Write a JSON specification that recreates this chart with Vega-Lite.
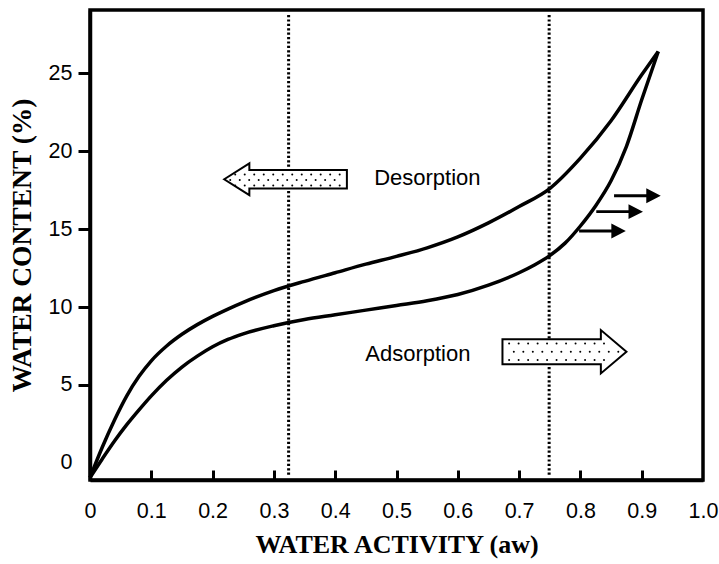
{
  "$schema": "https://vega.github.io/schema/vega-lite/v6.json",
  "width": 613,
  "height": 470,
  "autosize": {"type": "none"},
  "padding": {"left": 90, "top": 10, "right": 16, "bottom": 84},
  "background": "white",
  "config": {
    "view": {"stroke": "black", "strokeWidth": 3.5},
    "axis": {
      "domainColor": "black",
      "domainWidth": 3.5,
      "tickColor": "black",
      "tickWidth": 3,
      "labelFont": "Liberation Sans",
      "labelFontSize": 21.5,
      "labelColor": "black",
      "titleFont": "Liberation Serif",
      "titleFontWeight": "bold",
      "titleColor": "black",
      "grid": false
    }
  },
  "datasets": {
    "curves": [
      {"series": "Desorption", "x": 0, "y": -0.95},
      {"series": "Desorption", "x": 0.02, "y": 1.0},
      {"series": "Desorption", "x": 0.04, "y": 2.75},
      {"series": "Desorption", "x": 0.06, "y": 4.3},
      {"series": "Desorption", "x": 0.08, "y": 5.55},
      {"series": "Desorption", "x": 0.1, "y": 6.55},
      {"series": "Desorption", "x": 0.125, "y": 7.5},
      {"series": "Desorption", "x": 0.15, "y": 8.25},
      {"series": "Desorption", "x": 0.175, "y": 8.87},
      {"series": "Desorption", "x": 0.2, "y": 9.4},
      {"series": "Desorption", "x": 0.225, "y": 9.87},
      {"series": "Desorption", "x": 0.25, "y": 10.3},
      {"series": "Desorption", "x": 0.3, "y": 11.05},
      {"series": "Desorption", "x": 0.35, "y": 11.65},
      {"series": "Desorption", "x": 0.4, "y": 12.2},
      {"series": "Desorption", "x": 0.45, "y": 12.75},
      {"series": "Desorption", "x": 0.5, "y": 13.25},
      {"series": "Desorption", "x": 0.55, "y": 13.8},
      {"series": "Desorption", "x": 0.6, "y": 14.5},
      {"series": "Desorption", "x": 0.65, "y": 15.4},
      {"series": "Desorption", "x": 0.7, "y": 16.45},
      {"series": "Desorption", "x": 0.75, "y": 17.6},
      {"series": "Desorption", "x": 0.8, "y": 19.55},
      {"series": "Desorption", "x": 0.85, "y": 21.95},
      {"series": "Desorption", "x": 0.9, "y": 24.9},
      {"series": "Desorption", "x": 0.927, "y": 26.4},
      {"series": "Adsorption", "x": 0, "y": -0.95},
      {"series": "Adsorption", "x": 0.02, "y": 0.25},
      {"series": "Adsorption", "x": 0.04, "y": 1.4},
      {"series": "Adsorption", "x": 0.06, "y": 2.45},
      {"series": "Adsorption", "x": 0.08, "y": 3.4},
      {"series": "Adsorption", "x": 0.1, "y": 4.3},
      {"series": "Adsorption", "x": 0.125, "y": 5.3},
      {"series": "Adsorption", "x": 0.15, "y": 6.15},
      {"series": "Adsorption", "x": 0.175, "y": 6.85},
      {"series": "Adsorption", "x": 0.2, "y": 7.45},
      {"series": "Adsorption", "x": 0.225, "y": 7.92},
      {"series": "Adsorption", "x": 0.25, "y": 8.28},
      {"series": "Adsorption", "x": 0.3, "y": 8.8},
      {"series": "Adsorption", "x": 0.35, "y": 9.2},
      {"series": "Adsorption", "x": 0.4, "y": 9.5},
      {"series": "Adsorption", "x": 0.45, "y": 9.8},
      {"series": "Adsorption", "x": 0.5, "y": 10.1},
      {"series": "Adsorption", "x": 0.55, "y": 10.4},
      {"series": "Adsorption", "x": 0.6, "y": 10.8},
      {"series": "Adsorption", "x": 0.65, "y": 11.4},
      {"series": "Adsorption", "x": 0.7, "y": 12.2},
      {"series": "Adsorption", "x": 0.725, "y": 12.7},
      {"series": "Adsorption", "x": 0.75, "y": 13.3},
      {"series": "Adsorption", "x": 0.775, "y": 14.1},
      {"series": "Adsorption", "x": 0.8, "y": 15.2},
      {"series": "Adsorption", "x": 0.825, "y": 16.5},
      {"series": "Adsorption", "x": 0.85, "y": 18.1},
      {"series": "Adsorption", "x": 0.875, "y": 20.3},
      {"series": "Adsorption", "x": 0.9, "y": 23.3},
      {"series": "Adsorption", "x": 0.927, "y": 26.4}
    ],
    "vlines": [
      {"x": 0.324, "y": 28.74, "y2": -0.8},
      {"x": 0.749, "y": 28.74, "y2": -0.8}
    ],
    "leftArrow": [{"x": 0.319, "y": 18.2}],
    "rightArrow": [{"x": 0.774, "y": 7.13}],
    "dots": [
      {"x": 0.2369, "y": 18.5}, {"x": 0.2524, "y": 18.5}, {"x": 0.2679, "y": 18.5}, {"x": 0.2834, "y": 18.5},
      {"x": 0.2989, "y": 18.5}, {"x": 0.3144, "y": 18.5}, {"x": 0.3299, "y": 18.5}, {"x": 0.3454, "y": 18.5},
      {"x": 0.3608, "y": 18.5}, {"x": 0.3763, "y": 18.5}, {"x": 0.3918, "y": 18.5}, {"x": 0.4073, "y": 18.5},
      {"x": 0.2288, "y": 18.15}, {"x": 0.2443, "y": 18.15}, {"x": 0.2597, "y": 18.15}, {"x": 0.2752, "y": 18.15},
      {"x": 0.2907, "y": 18.15}, {"x": 0.3062, "y": 18.15}, {"x": 0.3217, "y": 18.15}, {"x": 0.3372, "y": 18.15},
      {"x": 0.3527, "y": 18.15}, {"x": 0.3681, "y": 18.15}, {"x": 0.3836, "y": 18.15}, {"x": 0.3991, "y": 18.15},
      {"x": 0.2369, "y": 17.8}, {"x": 0.2524, "y": 17.8}, {"x": 0.2679, "y": 17.8}, {"x": 0.2834, "y": 17.8},
      {"x": 0.2989, "y": 17.8}, {"x": 0.3144, "y": 17.8}, {"x": 0.3299, "y": 17.8}, {"x": 0.3454, "y": 17.8},
      {"x": 0.3608, "y": 17.8}, {"x": 0.3763, "y": 17.8}, {"x": 0.3918, "y": 17.8}, {"x": 0.4073, "y": 17.8},
      {"x": 0.6837, "y": 7.66}, {"x": 0.6992, "y": 7.66}, {"x": 0.7147, "y": 7.66}, {"x": 0.7302, "y": 7.66},
      {"x": 0.7456, "y": 7.66}, {"x": 0.7611, "y": 7.66}, {"x": 0.7766, "y": 7.66}, {"x": 0.7921, "y": 7.66},
      {"x": 0.8076, "y": 7.66}, {"x": 0.8231, "y": 7.66}, {"x": 0.8385, "y": 7.66},
      {"x": 0.6914, "y": 7.13}, {"x": 0.7069, "y": 7.13}, {"x": 0.7224, "y": 7.13}, {"x": 0.7379, "y": 7.13},
      {"x": 0.7534, "y": 7.13}, {"x": 0.7689, "y": 7.13}, {"x": 0.7844, "y": 7.13}, {"x": 0.7998, "y": 7.13},
      {"x": 0.8153, "y": 7.13}, {"x": 0.8308, "y": 7.13}, {"x": 0.8463, "y": 7.13}, {"x": 0.8618, "y": 7.13},
      {"x": 0.6837, "y": 6.6}, {"x": 0.6992, "y": 6.6}, {"x": 0.7147, "y": 6.6}, {"x": 0.7302, "y": 6.6},
      {"x": 0.7456, "y": 6.6}, {"x": 0.7611, "y": 6.6}, {"x": 0.7766, "y": 6.6}, {"x": 0.7921, "y": 6.6},
      {"x": 0.8076, "y": 6.6}, {"x": 0.8231, "y": 6.6}, {"x": 0.8385, "y": 6.6}
    ],
    "smallArrows": [
      {"x": 0.893, "y": 17.14},
      {"x": 0.864, "y": 16.12},
      {"x": 0.836, "y": 14.88}
    ],
    "labels": [
      {"x": 0.4636, "y": 17.83, "label": "Desorption"},
      {"x": 0.449, "y": 6.54, "label": "Adsorption"}
    ]
  },
  "resolve": {"axis": {"x": "independent"}},
  "encoding": {
    "y": {
      "field": "y",
      "type": "quantitative",
      "scale": {"domain": [-1.1, 29.06], "nice": false, "zero": false},
      "title": "WATER CONTENT (%)",
      "axis": {
        "values": [0, 5, 10, 15, 20, 25],
        "tickSize": 12,
        "labelPadding": 6,
        "labelFlush": false,
        "labelOverlap": false,
        "tickColor": {"condition": {"test": "datum.value === 0", "value": "transparent"}, "value": "black"},
        "titleFontSize": 27.5,
        "titlePadding": 12
      }
    }
  },
  "layer": [
    {
      "data": {"name": "vlines"},
      "mark": {"type": "rule", "strokeDash": [2.2, 2.2], "strokeWidth": 3, "color": "black"},
      "encoding": {
        "x": {
          "field": "x",
          "type": "quantitative",
          "scale": {"domain": [0, 1], "nice": false, "zero": false},
          "title": null,
          "axis": {
            "orient": "top",
            "offset": -470,
            "values": [0.1, 0.2, 0.3, 0.4, 0.5, 0.6, 0.7, 0.8, 0.9],
            "domain": false,
            "labels": false,
            "ticks": true,
            "tickSize": 10,
            "tickWidth": 3
          }
        },
        "y2": {"field": "y2"}
      }
    },
    {
      "data": {"name": "curves"},
      "mark": {"type": "line", "interpolate": "monotone", "color": "black", "strokeWidth": 3.5},
      "encoding": {
        "x": {
          "field": "x",
          "type": "quantitative",
          "scale": {"domain": [0, 1], "nice": false, "zero": false},
          "title": "WATER ACTIVITY (aw)",
          "axis": {
            "orient": "bottom",
            "values": [0, 0.1, 0.2, 0.3, 0.4, 0.5, 0.6, 0.7, 0.8, 0.9, 1],
            "labelExpr": "datum.value == 0 ? '0' : format(datum.value, '.1f')",
            "ticks": false,
            "labelPadding": 20,
            "labelFlush": false,
            "labelOverlap": false,
            "titleFontSize": 26,
            "titlePadding": 10
          }
        },
        "detail": {"field": "series"}
      }
    },
    {
      "data": {"name": "leftArrow"},
      "mark": {
        "type": "point",
        "shape": "M -1 0 L -0.59 -0.26 L -0.59 -0.15 L 1 -0.15 L 1 0.15 L -0.59 0.15 L -0.59 0.26 Z",
        "size": 15055,
        "filled": true,
        "fill": "white",
        "stroke": "black",
        "strokeWidth": 2,
        "opacity": 1
      },
      "encoding": {"x": {"field": "x", "type": "quantitative", "axis": null}}
    },
    {
      "data": {"name": "rightArrow"},
      "mark": {
        "type": "point",
        "shape": "M 1 0 L 0.587 -0.35 L 0.587 -0.2 L -1 -0.2 L -1 0.2 L 0.587 0.2 L 0.587 0.35 Z",
        "size": 15376,
        "filled": true,
        "fill": "white",
        "stroke": "black",
        "strokeWidth": 2,
        "opacity": 1
      },
      "encoding": {"x": {"field": "x", "type": "quantitative", "axis": null}}
    },
    {
      "data": {"name": "dots"},
      "mark": {"type": "point", "shape": "circle", "size": 4, "filled": true, "color": "black", "opacity": 1},
      "encoding": {"x": {"field": "x", "type": "quantitative", "axis": null}}
    },
    {
      "data": {"name": "smallArrows"},
      "mark": {
        "type": "point",
        "shape": "M -1 -0.06 L 0.38 -0.06 L 0.38 -0.32 L 1 0 L 0.38 0.32 L 0.38 0.06 L -1 0.06 Z",
        "size": 2181,
        "filled": true,
        "fill": "black",
        "strokeWidth": 0,
        "opacity": 1
      },
      "encoding": {"x": {"field": "x", "type": "quantitative", "axis": null}}
    },
    {
      "data": {"name": "labels"},
      "mark": {"type": "text", "align": "left", "baseline": "alphabetic", "font": "Liberation Sans", "fontSize": 22, "color": "black"},
      "encoding": {
        "x": {"field": "x", "type": "quantitative", "axis": null},
        "text": {"field": "label"}
      }
    }
  ]
}
